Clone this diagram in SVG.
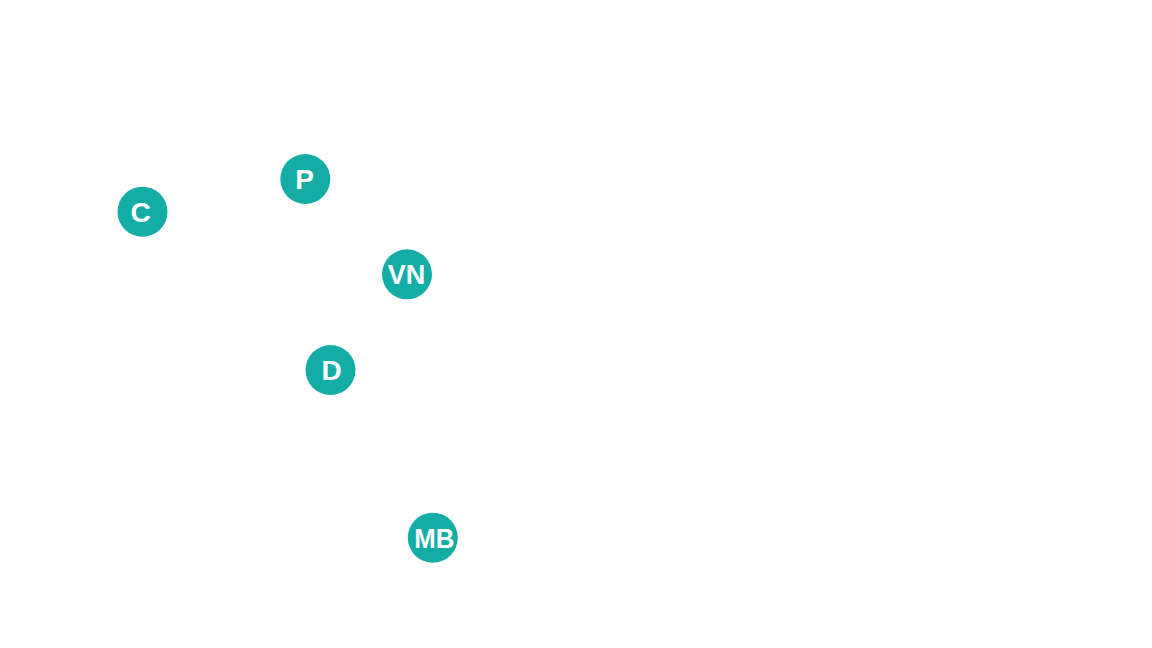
<svg xmlns="http://www.w3.org/2000/svg" width="1152" height="648" viewBox="0 0 1152 648">
<style>
.node circle{fill:#14ADA6}
.node text{fill:#ffffff;font-family:"Liberation Sans",Arial,sans-serif;font-weight:bold;font-size:28px;text-anchor:middle}
</style>
<rect width="1152" height="648" fill="#ffffff"/>
<g id="connectors"></g>
<g id="node-C" class="node"><circle cx="142.5" cy="211.7" r="25"/><text x="140.5" y="221.5">C</text></g>
<g id="node-P" class="node"><circle cx="305.3" cy="179" r="25"/><text x="304.5" y="189">P</text></g>
<g id="node-VN" class="node"><circle cx="407" cy="274.3" r="25"/><text x="406.5" y="284.3" textLength="37.5" lengthAdjust="spacingAndGlyphs">VN</text></g>
<g id="node-D" class="node"><circle cx="330.5" cy="370" r="25"/><text x="331.5" y="380">D</text></g>
<g id="node-MB" class="node"><circle cx="432.8" cy="537.7" r="25"/><text x="434.3" y="547.7" textLength="40" lengthAdjust="spacingAndGlyphs">MB</text></g>
</svg>
